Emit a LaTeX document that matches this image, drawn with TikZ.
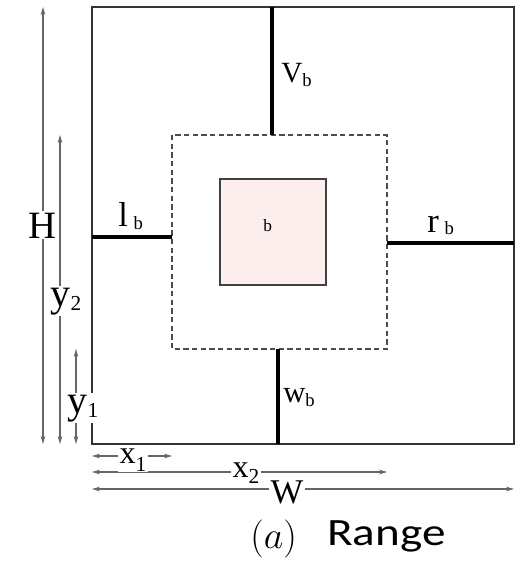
\documentclass[tikz,border=0pt]{standalone}
\usepackage{fontspec}
\setmainfont{Liberation Serif}
\newfontfamily\capfont{Carlito}
\usepackage{tikz}
\usetikzlibrary{arrows.meta}
\definecolor{cellpink}{HTML}{FCEEEC}
\newcommand{\fs}[1]{\fontsize{#1}{#1}\selectfont}
\newcommand{\sbb}[3]{\raisebox{-#3}{\fs{#1}#2}}

\begin{document}
\begin{tikzpicture}[x=0.75pt,y=-0.75pt,
    frame/.style={draw=black!80, line width=1.1pt},
    zone/.style={draw=black!70, line width=0.8pt, dash pattern=on 4pt off 2.5pt},
    cell/.style={draw=black!75, line width=1.1pt, fill=cellpink},
    bar/.style={line width=3.3pt},
    dimline/.style={color=black!60, line width=0.9pt, {Stealth[length=6pt,width=3.5pt]}-{Stealth[length=6pt,width=3.5pt]}},
    lbl/.style={inner sep=0pt, anchor=base west},
    dimlbl/.style={inner sep=1pt, anchor=base west, fill=white}]
  \useasboundingbox (0,0) rectangle (531,564);
  \coordinate (outerNW) at (92,7); \coordinate (outerSE) at (514,444);
  \coordinate (zoneNW) at (172,135); \coordinate (zoneSE) at (387,349);
  \coordinate (cellNW) at (220,179); \coordinate (cellSE) at (326,285);
  \draw[frame] (outerNW) rectangle (outerSE);
  \draw[zone] (zoneNW) rectangle (zoneSE);
  \draw[cell] (cellNW) rectangle (cellSE);

  \coordinate (vtop) at (272,7); \coordinate (wbot) at (278,444);
  \coordinate (lleft) at (92,237); \coordinate (rright) at (514,243);
  \draw[bar] (vtop) -- (vtop |- zoneNW); \draw[bar] (wbot) -- (wbot |- zoneSE);
  \draw[bar] (lleft) -- (lleft -| zoneNW); \draw[bar] (rright) -- (rright -| zoneSE);

  \node[lbl] (vb) at (281,82) {\fs{22}V\sbb{14}{b}{3pt}};
  \node[lbl] (lb) at (118,226) {\fs{26}l\,\sbb{14}{b}{2.5pt}};
  \node[lbl] (rb) at (427,232) {\fs{26}r\,\sbb{14}{b}{1.5pt}};
  \node[lbl] (wb) at (283,402) {\fs{23}w\sbb{14}{b}{3pt}};
  \node[lbl] (b) at (263,231) {\fs{13}b};

  \coordinate (colH) at (43,0); \coordinate (colY2) at (60,0); \coordinate (colY1) at (76,0);
  \coordinate (rowX1) at (0,456); \coordinate (rowX2) at (0,472); \coordinate (rowW) at (0,489);
  \draw[dimline] (colH |- outerNW) -- (colH |- outerSE);
  \draw[dimline] (colY2 |- zoneNW) -- (colY2 |- outerSE);
  \draw[dimline] (colY1 |- zoneSE) -- (colY1 |- outerSE);
  \draw[dimline] (rowX1 -| outerNW) -- (rowX1 -| zoneNW);
  \draw[dimline] (rowX2 -| outerNW) -- (rowX2 -| zoneSE);
  \draw[dimline] (rowW -| outerNW) -- (rowW -| outerSE);

  \node[dimlbl] (H) at (27,238) {\fs{29}H};
  \node[dimlbl] (y2) at (49,306) {\fs{30}y\sbb{16}{2}{3.5pt}};
  \node[dimlbl] (y1) at (66,413) {\fs{30}y\sbb{16}{1}{3.5pt}};
  \node[dimlbl] (x1) at (118,463) {\fs{24}x\sbb{16}{1}{6pt}};
  \node[dimlbl] (x2) at (231,477) {\fs{24}x\sbb{16}{2}{4.5pt}};
  \node[dimlbl] (W) at (269,503) {\fs{26}W};

  \node[lbl] (capa) at (250,548) {\scalebox{1.15}{\fs{24.88}$(a)$}};
  \node[lbl] (caprange) at (327,545) {\scalebox{1.22}[1]{\capfont\fs{29}Range}};
\end{tikzpicture}
\end{document}
